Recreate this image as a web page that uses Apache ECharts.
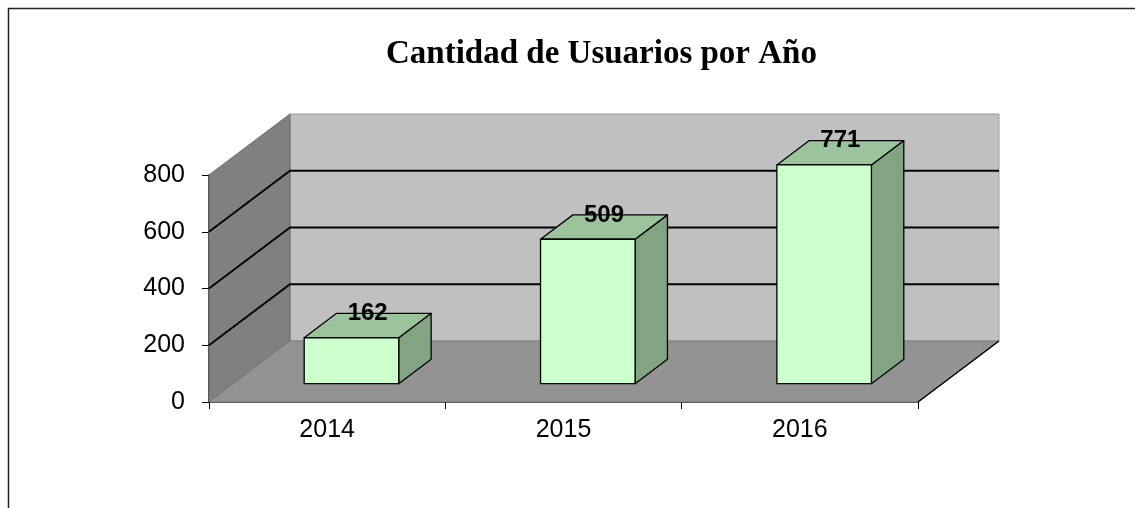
<!DOCTYPE html>
<html lang="es">
	<head>
		<meta charset="UTF-8">
		<title>Cantidad de Usuarios por Año</title>
		<script src="https://cdn.jsdelivr.net/npm/echarts@6/dist/echarts.min.js" type="text/javascript" charset="utf-8"></script>
		<style>
			html, body { margin: 0; padding: 0; background: #fff; }
			#main { width: 1135px; height: 508px; }
		</style>
	</head>
	<body>
		<div id="main"></div>
		<script>
			var years = ['2014', '2015', '2016'];
			var users = [162, 509, 771];
			var yTicks = [0, 200, 400, 600, 800];

			// proyeccion de profundidad (pseudo 3D)
			var DX = 81, DY = -61;

			var chartDom = document.getElementById('main');
			var myChart = echarts.init(chartDom);

			function renderWalls(params, api) {
				var cs = params.coordSys;
				var x0 = cs.x, x1 = cs.x + cs.width;
				var yMax = yTicks[yTicks.length - 1];
				var y0 = api.coord([0, 0])[1];
				var yTop = api.coord([0, yMax])[1];
				var children = [
					{
						type: 'polygon',
						shape: { points: [[x0 + DX, yTop + DY], [x1 + DX, yTop + DY], [x1 + DX, y0 + DY], [x0 + DX, y0 + DY]] },
						style: { fill: '#c0c0c0', stroke: '#9a9a9a', lineWidth: 1 }
					},
					{
						type: 'polygon',
						shape: { points: [[x0, y0], [x0, yTop], [x0 + DX, yTop + DY], [x0 + DX, y0 + DY]] },
						style: { fill: '#808080', stroke: '#6a6a6a', lineWidth: 1 }
					},
					{
						type: 'polygon',
						shape: { points: [[x0, y0], [x1, y0], [x1 + DX, y0 + DY], [x0 + DX, y0 + DY]] },
						style: { fill: '#939393', stroke: '#7a7a7a', lineWidth: 1 }
					},
					{
						type: 'line',
						shape: { x1: x1, y1: y0, x2: x1 + DX, y2: y0 + DY },
						style: { stroke: '#000', lineWidth: 1.5 }
					}
				];
				yTicks.forEach(function(v) {
					if (v === 0 || v === yMax) return;
					var y = api.coord([0, v])[1];
					children.push({
						type: 'polyline',
						shape: { points: [[x0, y], [x0 + DX, y + DY], [x1 + DX, y + DY]] },
						style: { stroke: '#000', lineWidth: 1.8, fill: null }
					});
				});
				return { type: 'group', children: children };
			}

			function renderBar(params, api) {
				var idx = api.value(0);
				var v = api.value(1);
				var base = api.coord([idx, 0]);
				var top = api.coord([idx, v]);
				var w = api.size([1, 0])[0] * 0.4;
				var fx = base[0] - w / 2 + 0.3 * DX;
				var fy0 = base[1] + 0.3 * DY;
				var fy1 = top[1] + 0.3 * DY;
				var bx = 0.4 * DX, by = 0.4 * DY;
				var line = { stroke: '#000', lineWidth: 1.3, lineJoin: 'round' };
				return {
					type: 'group',
					children: [
						{
							type: 'polygon',
							shape: { points: [[fx + w, fy1], [fx + w + bx, fy1 + by], [fx + w + bx, fy0 + by], [fx + w, fy0]] },
							style: Object.assign({ fill: '#82a482' }, line)
						},
						{
							type: 'polygon',
							shape: { points: [[fx, fy1], [fx + w, fy1], [fx + w + bx, fy1 + by], [fx + bx, fy1 + by]] },
							style: Object.assign({ fill: '#9cc49c' }, line)
						},
						{
							type: 'rect',
							shape: { x: fx, y: fy1, width: w, height: fy0 - fy1 },
							style: Object.assign({ fill: '#ccffcc' }, line)
						},
						{
							type: 'text',
							x: fx + w / 2 + bx / 2,
							y: fy1 + by / 2 - 12,
							style: {
								text: String(v),
								fill: '#000',
								font: 'bold 24px "Liberation Sans", Arial, sans-serif',
								align: 'center',
								verticalAlign: 'middle'
							}
						}
					]
				};
			}

			var option = {
				animation: false,
				title: {
					text: 'Cantidad de Usuarios por Año',
					left: 381,
					top: 33,
					textStyle: {
						fontFamily: '"Liberation Serif", serif',
						fontWeight: 'bold',
						fontSize: 33,
						color: '#000'
					}
				},
				graphic: [{
					type: 'rect',
					shape: { x: 8.5, y: 8.5, width: 1200, height: 600 },
					style: { fill: null, stroke: '#222', lineWidth: 1.5 },
					z: 0
				}],
				grid: {
					left: 209,
					right: 217,
					top: 175,
					bottom: 106
				},
				xAxis: {
					type: 'category',
					data: years,
					boundaryGap: true,
					axisLine: { show: true, lineStyle: { color: '#000', width: 1.5 } },
					axisTick: { show: true, length: 7, lineStyle: { color: '#000' } },
					axisLabel: {
						margin: 16,
						color: '#000',
						fontSize: 25,
						fontFamily: '"Liberation Sans", Arial, sans-serif'
					}
				},
				yAxis: {
					type: 'value',
					min: 0,
					max: 800,
					interval: 200,
					axisLine: { show: true, lineStyle: { color: '#000', width: 1.5 } },
					axisTick: { show: true, length: 7, lineStyle: { color: '#000' } },
					splitLine: { show: false },
					axisLabel: {
						margin: 24,
						color: '#000',
						fontSize: 25,
						fontFamily: '"Liberation Sans", Arial, sans-serif'
					}
				},
				series: [
					{
						type: 'custom',
						renderItem: renderWalls,
						data: [[0, 0]],
						z: 1,
						silent: true
					},
					{
						type: 'custom',
						renderItem: renderBar,
						encode: { x: 0, y: 1 },
						data: users.map(function(u, i) { return [i, u]; }),
						z: 3
					}
				]
			};
			myChart.setOption(option);
		</script>
	</body>
</html>
